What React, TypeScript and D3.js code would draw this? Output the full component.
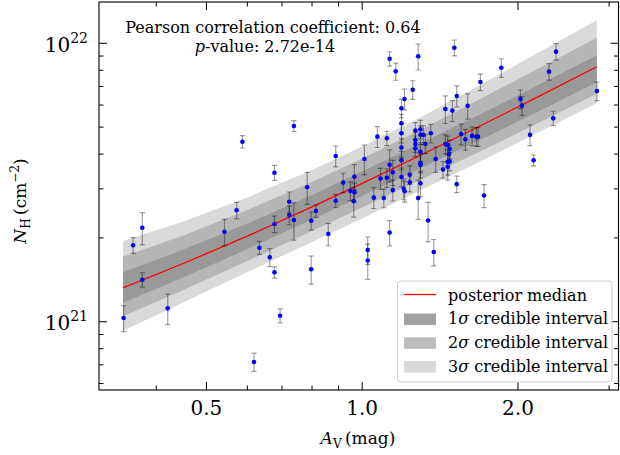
import React from "react";
import * as d3 from "d3";

// ---- data (N_H in units of 1e21 cm^-2) ----
const av = [
  0.346, 0.361, 0.376, 0.376, 0.421, 0.542, 0.572, 0.587, 0.738, 0.677,
  0.889, 0.783, 0.723, 0.723, 0.738, 0.677, 0.814, 0.797, 0.889, 0.86,
  0.633, 0.663, 0.677, 0.797, 0.694, 0.618, 1.283, 1.13, 1.161, 1.507,
  1.252, 1.207, 1.191, 1.191, 1.191, 1.191, 1.191, 1.191, 1.203, 1.208,
  1.01, 1.07, 1.116, 1.13, 1.085, 1.116, 1.146, 1.146, 0.919, 0.949,
  0.966, 0.966, 0.963, 1.053, 1.101, 1.236, 1.236, 1.283, 1.341, 1.267,
  1.267, 1.267, 1.267, 1.296, 1.296, 1.313, 1.296, 1.296, 1.296, 1.296,
  1.325, 1.357, 1.387, 1.433, 1.448, 1.494, 1.523, 1.599, 1.448, 1.463,
  1.476, 1.472, 1.463, 1.463, 1.476, 1.523, 1.553, 1.583, 1.631, 1.662,
  1.674, 1.692, 1.72, 1.857, 2.021, 2.036, 2.11, 2.144, 2.296, 2.369,
  2.34, 2.842, 1.375, 1.13, 1.025, 1.025,
];
const nh21 = [
  1.031, 1.881, 2.176, 1.415, 1.117, 2.105, 2.513, 4.432, 5.047, 3.429,
  3.937, 3.04, 2.698, 2.416, 2.319, 2.243, 2.498, 2.306, 2.72, 2.065,
  1.844, 1.703, 1.504, 1.543, 1.051, 0.717, 8.98, 8.8, 7.93, 9.64,
  6.81, 6.31, 5.84, 5.16, 4.75, 4.22, 3.8, 3.31, 3.0, 2.94,
  3.84, 4.62, 4.56, 3.66, 3.27, 3.29, 3.44, 2.97, 3.16, 2.95,
  3.32, 2.92, 2.71, 2.79, 2.78, 3.37, 3.17, 2.78, 2.31, 4.86,
  4.49, 4.35, 4.2, 4.91, 4.69, 4.69, 4.08, 3.71, 3.66, 3.14,
  4.35, 4.75, 3.84, 3.52, 5.81, 5.73, 6.47, 5.96, 4.35, 4.31,
  4.17, 4.0, 3.75, 3.6, 3.77, 3.12, 4.72, 4.52, 4.65, 4.62,
  4.62, 7.26, 2.84, 8.17, 6.31, 5.97, 4.69, 3.8, 7.91, 9.33,
  5.38, 6.74, 1.78, 2.09, 1.81, 1.66,
];
const nhErr = [
  0.11, 0.122, 0.287, 0.084, 0.14, 0.228, 0.171, 0.226, 0.226, 0.213,
  0.339, 0.401, 0.225, 0.186, 0.357, 0.153, 0.127, 0.172, 0.148, 0.191,
  0.1, 0.126, 0.071, 0.179, 0.06, 0.054, 0.961, 0.525, 0.563, 0.634,
  0.525, 0.542, 0.45, 0.397, 0.366, 0.325, 0.293, 0.255, 0.258, 0.252,
  0.472, 0.397, 0.272, 0.482, 0.282, 0.253, 0.358, 0.256, 0.253, 0.227,
  0.345, 0.224, 0.334, 0.24, 0.214, 0.26, 0.244, 0.447, 0.372, 0.33,
  0.306, 0.296, 0.285, 0.378, 0.361, 0.361, 0.314, 0.285, 0.38, 0.327,
  0.335, 0.366, 0.4, 0.239, 0.659, 0.493, 0.556, 0.619, 0.335, 0.332,
  0.321, 0.308, 0.39, 0.375, 0.29, 0.212, 0.406, 0.389, 0.358, 0.356,
  0.356, 0.494, 0.269, 0.629, 0.486, 0.46, 0.403, 0.17, 0.538, 0.634,
  0.321, 0.519, 0.194, 0.217, 0.205, 0.24,
];

// posterior model
const bandAv = [0.345, 0.45, 0.6, 0.8, 1.0, 1.3, 1.7, 2.2, 2.84];
const medianNh = [1.324, 1.615, 2.03, 2.584, 3.138, 3.969, 5.077, 6.462, 8.235];
const s1Lo = [1.17, 1.439, 1.823, 2.33, 2.83, 3.565, 4.521, 5.708, 7.244];
const s1Hi = [1.504, 1.814, 2.251, 2.854, 3.466, 4.384, 5.582, 7.109, 9.057];
const s2Lo = [1.047, 1.297, 1.651, 2.119, 2.573, 3.242, 4.111, 5.19, 6.588];
const s2Hi = [1.711, 2.036, 2.518, 3.178, 3.859, 4.9, 6.346, 8.147, 10.47];
const s3Lo = [0.928, 1.17, 1.508, 1.934, 2.35, 2.972, 3.785, 4.799, 6.089];
const s3Hi = [1.948, 2.286, 2.796, 3.51, 4.263, 5.436, 7.128, 9.298, 12.1];

// ticks
const xMajorTicks = [0.5, 1, 2];
const xTickLabels = ["0.5", "1.0", "2.0"];
const xMinorTicks = [0.4, 0.6, 0.7, 0.8, 0.9, 3];
const yMajorTicks = [1, 10];
const yTickExponents = ["21", "22"];
const yMinorTicks = [0.6, 0.7, 0.8, 0.9, 2, 3, 4, 5, 6, 7, 8, 9];

const legendSigmas = ["1", "2", "3"];

const FONT = "DejaVu Serif";

export default function App() {
  const W = 620, H = 455;
  const left = 99, right = 618.5, top = 2, bottom = 390;
  const x = d3.scaleLog().domain([0.3101, 3.128]).range([left, right]);
  const y = d3.scaleLog().domain([0.5685, 14.07]).range([bottom, top]);

  const idx = bandAv.map((_, i) => i);
  const area = (lo: number[], hi: number[]) =>
    d3.area<number>().x((i) => x(bandAv[i])).y0((i) => y(lo[i])).y1((i) => y(hi[i]))(idx) || "";
  const medLine = d3.line<number>().x((i) => x(bandAv[i])).y((i) => y(medianNh[i]))(idx) || "";

  const c3 = "#d9d9d9", c2 = "#b6b6b6", c1 = "#999999";
  const legendColors = ["#a3a3a3", "#bcbcbc", "#d9d9d9"];

  const majLen = 8, minLen = 4.5;

  return (
    <svg width={W} height={H} style={{ position: "absolute", left: 0, top: 0, background: "#fff" }} fontFamily={FONT}>
      <rect x={0} y={0} width={W} height={H} fill="#fff" />
      <defs>
        <clipPath id="plotclip">
          <rect x={left} y={top} width={right - left} height={bottom - top} />
        </clipPath>
      </defs>
      <g clipPath="url(#plotclip)">
        <path d={area(s3Lo, s3Hi)} fill={c3} />
        <path d={area(s2Lo, s2Hi)} fill={c2} />
        <path d={area(s1Lo, s1Hi)} fill={c1} />
        <path d={medLine} fill="none" stroke="#ff0000" strokeWidth={1.3} />
        <g stroke="#000" strokeOpacity={0.37} strokeWidth={1.2}>
          {av.map((a, i) => {
            const cx = x(a);
            const y0 = y(nh21[i] - nhErr[i]);
            const y1 = y(nh21[i] + nhErr[i]);
            return (
              <g key={i}>
                <line x1={cx} x2={cx} y1={y0} y2={y1} />
                <line x1={cx - 2.6} x2={cx + 2.6} y1={y0} y2={y0} />
                <line x1={cx - 2.6} x2={cx + 2.6} y1={y1} y2={y1} />
              </g>
            );
          })}
        </g>
        {av.map((a, i) => (
          <circle key={i} cx={x(a)} cy={y(nh21[i])} r={2.3} fill="#0000ff" />
        ))}
      </g>

      {/* ticks */}
      <g stroke="#000" strokeWidth={1}>
        {xMajorTicks.map((t) => (
          <g key={"xM" + t}>
            <line x1={x(t)} x2={x(t)} y1={bottom} y2={bottom - majLen} />
            <line x1={x(t)} x2={x(t)} y1={top} y2={top + majLen} />
          </g>
        ))}
        {xMinorTicks.map((t) => (
          <g key={"xm" + t}>
            <line x1={x(t)} x2={x(t)} y1={bottom} y2={bottom - minLen} />
            <line x1={x(t)} x2={x(t)} y1={top} y2={top + minLen} />
          </g>
        ))}
        {yMajorTicks.map((t) => (
          <g key={"yM" + t}>
            <line x1={left} x2={left + majLen} y1={y(t)} y2={y(t)} />
            <line x1={right} x2={right - majLen} y1={y(t)} y2={y(t)} />
          </g>
        ))}
        {yMinorTicks.map((t) => (
          <g key={"ym" + t}>
            <line x1={left} x2={left + minLen} y1={y(t)} y2={y(t)} />
            <line x1={right} x2={right - minLen} y1={y(t)} y2={y(t)} />
          </g>
        ))}
      </g>
      <rect x={left} y={top} width={right - left} height={bottom - top} fill="none" stroke="#000" strokeWidth={1.1} />

      {/* tick labels */}
      {xMajorTicks.map((t, i) => (
        <text key={"xl" + t} x={x(t)} y={bottom + 25} textAnchor="middle" fontSize={20}>
          {xTickLabels[i]}
        </text>
      ))}
      {yMajorTicks.map((t, i) => (
        <text key={"yl" + t} x={left - 11} y={y(t) + 8.3} textAnchor="end" fontSize={20}>
          10<tspan fontSize={14} dy={-9}>{yTickExponents[i]}</tspan>
        </text>
      ))}

      {/* axis labels */}
      <text x={358} y={443.5} textAnchor="middle" fontSize={17}>
        <tspan fontStyle="italic">A</tspan>
        <tspan fontSize={12} dy={4}>V</tspan>
        <tspan dy={-4}>{"\u2009(mag)"}</tspan>
      </text>
      <text transform="translate(26,201) rotate(-90)" textAnchor="middle" fontSize={17}>
        <tspan fontStyle="italic">N</tspan>
        <tspan fontSize={12} dy={4}>H</tspan>
        <tspan dy={-4}>{"\u2009(cm"}</tspan>
        <tspan fontSize={12} dy={-7}>{"\u22122"}</tspan>
        <tspan dy={7}>)</tspan>
      </text>

      {/* annotation */}
      <text x={273} y={33.3} textAnchor="middle" fontSize={16}>
        Pearson correlation coefficient: 0.64
      </text>
      <text x={265} y={52.3} textAnchor="middle" fontSize={16}>
        <tspan fontStyle="italic">p</tspan>-value: 2.72e-14
      </text>

      {/* legend */}
      <g>
        <rect x={397.5} y={281} width={214.5} height={101} rx={3} fill="#fff" fillOpacity={0.8} stroke="#cccccc" strokeWidth={1} />
        <line x1={404} x2={436} y1={294.5} y2={294.5} stroke="#ff0000" strokeWidth={1.3} />
        <text x={448} y={300.5} fontSize={16}>posterior median</text>
        {legendSigmas.map((s, i) => (
          <g key={"lg" + s}>
            <rect x={404} y={313.5 + i * 23.8} width={32} height={11.5} fill={legendColors[i]} />
            <text x={448} y={324.3 + i * 23.7} fontSize={16}>
              {s}
              <tspan fontStyle="italic">σ</tspan> credible interval
            </text>
          </g>
        ))}
      </g>
    </svg>
  );
}
